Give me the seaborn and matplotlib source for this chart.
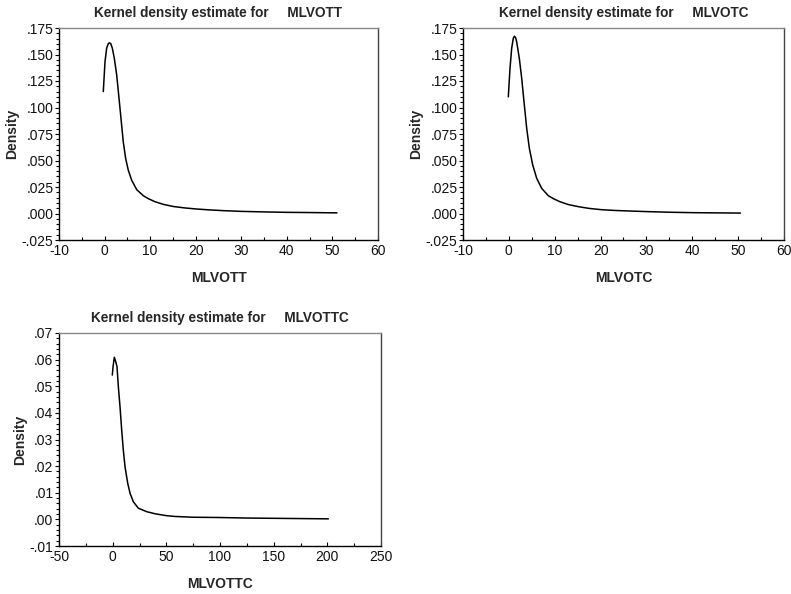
import matplotlib
matplotlib.use("Agg")
import matplotlib.pyplot as plt
from matplotlib.ticker import FuncFormatter, MultipleLocator
import seaborn as sns
import pandas as pd

sns.set_theme(style="white")
plt.rcParams['font.family'] = ['Liberation Sans', 'DejaVu Sans']
plt.rcParams['axes.unicode_minus'] = False

# ---- data ----
mlvott_x = [-0.28, 0.09, 0.46, 0.82, 1.05, 1.34, 1.7, 2.14, 2.66, 3.17, 3.6, 4.1, 4.63, 5.2,
            5.95, 7.05, 8.5, 9.7, 11.07, 13.0, 15.1, 17.5, 20, 23, 26, 30, 35, 40, 45, 51]
mlvott_y = [0.115, 0.143, 0.156, 0.1603, 0.161, 0.1604, 0.156, 0.1464, 0.1307, 0.1087, 0.0898,
            0.0677, 0.0519, 0.0409, 0.0314, 0.0225, 0.0168, 0.0138, 0.0111, 0.0085, 0.0066,
            0.0053, 0.0043, 0.0034, 0.0027, 0.0020, 0.0015, 0.0011, 0.0009, 0.0006]

mlvotc_x = [-0.12, 0.25, 0.62, 0.97, 1.2, 1.45, 1.7, 2.28, 2.8, 3.3, 3.89, 4.47, 5.2, 6.07,
            7.16, 8.6, 9.8, 11.15, 13.0, 15.1, 17.5, 20.2, 23, 26, 30, 35, 40, 45, 50.5]
mlvotc_y = [0.110, 0.137, 0.156, 0.1653, 0.1672, 0.1662, 0.1621, 0.1464, 0.1276, 0.1056, 0.0804,
            0.0615, 0.0458, 0.0332, 0.0237, 0.0168, 0.0138, 0.0111, 0.0084, 0.0065, 0.0048,
            0.0036, 0.0029, 0.0024, 0.0018, 0.0012, 0.0008, 0.0006, 0.0004]

mlvottc_x = [-0.33, 0.33, 1.56, 2.8, 4.05, 5.3, 6.85, 8.4, 9.9, 11.5, 14.0, 16.2, 19.3, 23.9,
             31.7, 39.5, 50, 58, 75, 100, 125, 150, 175, 201]
mlvottc_y = [0.0542, 0.0573, 0.0609, 0.0593, 0.0573, 0.0498, 0.0423, 0.0336, 0.0261, 0.0198,
             0.0136, 0.0098, 0.0066, 0.0042, 0.0029, 0.0021, 0.0014, 0.0011, 0.0008, 0.0007,
             0.0005, 0.0004, 0.0003, 0.0002]

W, H = 791, 594
fig = plt.figure(figsize=(W / 100, H / 100), dpi=100)


def make_ax(l, r, t, b):
    return fig.add_axes([l / W, (H - b) / H, (r - l) / W, (b - t) / H])


def strip_zero(decimals):
    def f(v, pos):
        s = f"{v:.{decimals}f}"
        if s.startswith("-0."):
            s = "-" + s[2:]
        elif s.startswith("0."):
            s = s[1:]
        return s
    return FuncFormatter(f)


panels = [
    dict(name="MLVOTT", x=mlvott_x, y=mlvott_y, box=(59, 378, 28, 240),
         xlim=(-10, 60), xmaj=10, xmin=5, ylim=(-0.025, 0.175), ymaj=0.025, ymin=0.005, dec=3),
    dict(name="MLVOTC", x=mlvotc_x, y=mlvotc_y, box=(463, 784, 28, 240),
         xlim=(-10, 60), xmaj=10, xmin=5, ylim=(-0.025, 0.175), ymaj=0.025, ymin=0.005, dec=3),
    dict(name="MLVOTTC", x=mlvottc_x, y=mlvottc_y, box=(59, 381, 333, 546),
         xlim=(-50, 250), xmaj=50, xmin=25, ylim=(-0.01, 0.07), ymaj=0.01, ymin=0.002, dec=2),
]

for p in panels:
    ax = make_ax(*p["box"])
    df = pd.DataFrame({p["name"]: p["x"], "Density": p["y"]})
    sns.lineplot(data=df, x=p["name"], y="Density", ax=ax, color="black",
                 linewidth=1.1, sort=False, estimator=None)
    ax.set_xlim(*p["xlim"])
    ax.set_ylim(*p["ylim"])
    ax.xaxis.set_major_locator(MultipleLocator(p["xmaj"]))
    ax.xaxis.set_minor_locator(MultipleLocator(p["xmin"]))
    ax.yaxis.set_major_locator(MultipleLocator(p["ymaj"]))
    ax.yaxis.set_minor_locator(MultipleLocator(p["ymin"]))
    ax.yaxis.set_major_formatter(strip_zero(p["dec"]))
    ax.tick_params(axis="x", which="major", direction="in", length=3, width=0.8,
                   color="black", labelsize=10, pad=3, labelcolor="#111111")
    ax.tick_params(axis="x", which="minor", direction="in", length=2, width=0.8, color="black")
    ax.tick_params(axis="y", which="major", direction="out", length=3, width=0.8,
                   color="black", labelsize=10, pad=1, labelcolor="#111111")
    ax.tick_params(axis="y", which="minor", direction="out", length=2, width=0.8, color="black")
    ax.tick_params(which="both", bottom=True, left=True, top=False, right=False)
    for s in ["left", "bottom"]:
        ax.spines[s].set_color("black")
        ax.spines[s].set_linewidth(1.0)
    ax.spines["top"].set_color("#888888")
    ax.spines["right"].set_color("#444444")
    for s in ["top", "right"]:
        ax.spines[s].set_linewidth(1.0)
    ax.set_xlabel(p["name"], fontsize=10, fontweight="bold", labelpad=9)
    ax.set_ylabel("Density", fontsize=10, fontweight="bold", labelpad=2)
    ax.set_title("Kernel density estimate for     " + p["name"], fontsize=9.8,
                 fontweight="bold", pad=8)
    ax.grid(False)

fig.savefig("out.png", dpi=100, facecolor="white")
